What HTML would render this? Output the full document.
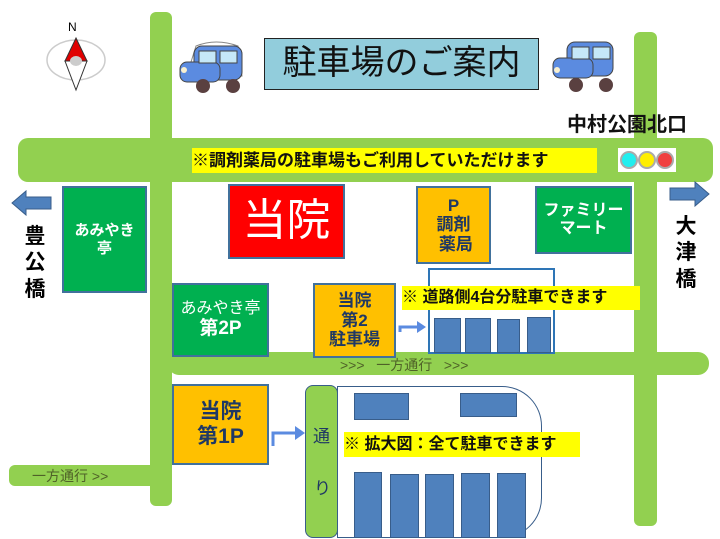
<!DOCTYPE html>
<html><head><meta charset="utf-8"><style>
body{margin:0;width:720px;height:539px;position:relative;background:#fff;overflow:hidden;font-family:"Liberation Sans","Noto Sans CJK JP",sans-serif}
div{position:absolute;box-sizing:border-box}
.c{display:flex;align-items:center;justify-content:center;text-align:center;line-height:1.15}
.c>p{margin:0}
.rd{background:#92D050;border-radius:6px}
.sl{background:#4F81BD;border:1px solid #385D8A}
.y{background:#FFFF00;font-weight:bold;color:#111;white-space:nowrap}
.or{background:#FFC000;border:2px solid #41719C;color:#1F3864;font-weight:bold}
.gr{background:#00B050;border:2px solid #41719C;color:#fff;font-weight:bold}
.ow{color:#4F6228;font-size:14px;white-space:nowrap}
.v{font-weight:bold;font-size:21px;width:26px;line-height:1.25;text-align:center}
</style></head><body>
<div class="rd" style="left:150px;top:12px;width:22px;height:494px"></div>
<div class="rd" style="left:634px;top:32px;width:23px;height:494px"></div>
<div class="rd" style="left:18px;top:138px;width:695px;height:44px;border-radius:10px"></div>
<div class="rd" style="left:168px;top:352px;width:541px;height:23px;border-radius:11px"></div>
<div class="rd" style="left:9px;top:465px;width:150px;height:21px"></div>

<svg style="position:absolute;left:44px;top:18px" width="64" height="75"><text x="24" y="13" font-size="12" font-family="Liberation Sans">N</text><ellipse cx="32" cy="42" rx="29" ry="20" fill="none" stroke="#ccc" stroke-width="1.5"/><polygon points="32,20 43,43 21,43" fill="#E00000" stroke="#333"/><polygon points="21,43 43,43 32,72" fill="#fff" stroke="#333"/><ellipse cx="32" cy="43" rx="6" ry="5" fill="#ccc"/></svg>

<svg style="position:absolute;left:176px;top:38px" width="78" height="56"><path d="M20 8 Q40 0 62 8 L66 38 L10 40 Z" fill="none" stroke="#888"/><rect x="18" y="8" width="48" height="34" rx="8" fill="#5B8BE0" stroke="#444"/><rect x="4" y="24" width="40" height="20" rx="7" fill="#5B8BE0" stroke="#444"/><rect x="23" y="13" width="17" height="12" fill="#C5E8F8" stroke="#444"/><rect x="44" y="13" width="17" height="12" fill="#C5E8F8" stroke="#444"/><circle cx="8" cy="32" r="3" fill="#f8f0d0"/><circle cx="27" cy="48" r="7" fill="#5a4040"/><circle cx="57" cy="48" r="7" fill="#5a4040"/></svg>
<svg style="position:absolute;left:549px;top:38px" width="78" height="56"><rect x="18" y="4" width="46" height="34" rx="8" fill="#5B8BE0" stroke="#444"/><rect x="4" y="20" width="40" height="20" rx="7" fill="#5B8BE0" stroke="#444"/><rect x="23" y="9" width="17" height="12" fill="#C5E8F8" stroke="#444"/><rect x="44" y="9" width="17" height="12" fill="#C5E8F8" stroke="#444"/><circle cx="8" cy="32" r="3" fill="#f8f0d0"/><circle cx="27" cy="47" r="7" fill="#5a4040"/><circle cx="57" cy="47" r="7" fill="#5a4040"/></svg>

<div class="c" style="left:264px;top:38px;width:275px;height:52px;background:#92CDDC;border:1.5px solid #222;font-size:34px;color:#111">駐車場のご案内</div>
<div style="left:567px;top:108px;font-size:20px;font-weight:bold;white-space:nowrap;color:#111">中村公園北口</div>
<div class="y" style="left:192px;top:148px;width:405px;height:25px;font-size:17px;line-height:25px">※調剤薬局の駐車場もご利用していただけます</div>
<svg style="position:absolute;left:618px;top:148px" width="58" height="24"><rect width="58" height="24" fill="#fff"/><circle cx="11" cy="12" r="8" fill="#22EEEE" stroke="#aaa" stroke-width="2"/><circle cx="29" cy="12" r="8" fill="#FFEE00" stroke="#aaa" stroke-width="2"/><circle cx="47" cy="12" r="8" fill="#F04040" stroke="#aaa" stroke-width="2"/></svg>

<svg style="position:absolute;left:11px;top:190px" width="42" height="26"><polygon points="1,13 15,1 15,7 40,7 40,19 15,19 15,25" fill="#4F81BD" stroke="#385D8A"/></svg>
<svg style="position:absolute;left:669px;top:181px" width="42" height="26"><polygon points="40,13 26,1 26,7 1,7 1,19 26,19 26,25" fill="#4F81BD" stroke="#385D8A"/></svg>
<div class="v" style="left:22px;top:224px">豊<br>公<br>橋</div>
<div class="v" style="left:673px;top:214px">大<br>津<br>橋</div>

<div class="c gr" style="left:62px;top:186px;width:85px;height:107px;font-size:15px"><p>あみやき<br>亭</p></div>
<div class="c" style="left:228px;top:184px;width:117px;height:75px;background:#FF0000;border:2px solid #41719C;color:#fff;font-size:44px">当院</div>
<div class="c or" style="left:416px;top:186px;width:75px;height:78px;font-size:17px"><p>P<br>調剤<br>&nbsp;薬局</p></div>
<div class="c gr" style="left:535px;top:186px;width:97px;height:68px;font-size:16px"><p>ファミリー<br>マート</p></div>

<div style="left:428px;top:268px;width:127px;height:86px;border:2px solid #2E75B6"></div>
<div class="sl" style="left:434px;top:318px;width:27px;height:35px"></div>
<div class="sl" style="left:465px;top:318px;width:26px;height:35px"></div>
<div class="sl" style="left:497px;top:319px;width:23px;height:34px"></div>
<div class="sl" style="left:527px;top:317px;width:24px;height:36px"></div>
<div class="y" style="left:402px;top:286px;width:238px;height:24px;font-size:16px;line-height:24px">※ 道路側4台分駐車できます</div>
<div class="c gr" style="left:172px;top:283px;width:97px;height:74px;font-size:16px;font-weight:normal"><p>あみやき亭<br><span style="font-size:19px;font-weight:bold">第2P</span></p></div>
<div class="c or" style="left:313px;top:283px;width:83px;height:75px;font-size:17px"><p>当院<br>第2<br>駐車場</p></div>
<svg style="position:absolute;left:398px;top:318px" width="30" height="18"><path d="M2 14 L2 9 L20 9" fill="none" stroke="#5B8BE0" stroke-width="3"/><polygon points="19,3 28,9 19,15" fill="#5B8BE0"/></svg>
<div class="ow" style="left:340px;top:355px">&gt;&gt;&gt;&nbsp;&nbsp;&nbsp;一方通行&nbsp;&nbsp;&nbsp;&gt;&gt;&gt;</div>

<div class="c or" style="left:172px;top:384px;width:97px;height:81px;font-size:21px"><p>当院<br>第1P</p></div>
<svg style="position:absolute;left:270px;top:420px" width="38" height="30"><path d="M3 26 L3 13 L26 13" fill="none" stroke="#5B8BE0" stroke-width="3"/><polygon points="25,6 35,13 25,20" fill="#5B8BE0"/></svg>
<div style="left:337px;top:386px;width:205px;height:152px;border:1.5px solid #385D8A;border-radius:0 40px 40px 0"></div>
<div class="rd" style="left:305px;top:385px;width:33px;height:153px;border:1.5px solid #385D8A;border-radius:8px;font-size:17px;color:#1F3864;text-align:center"><div style="left:7px;top:36px">通</div><div style="left:8px;top:88px">り</div></div>
<div class="sl" style="left:354px;top:393px;width:55px;height:27px"></div>
<div class="sl" style="left:460px;top:393px;width:57px;height:24px"></div>
<div class="y" style="left:344px;top:432px;width:236px;height:25px;font-size:16px;line-height:25px">※ 拡大図：全て駐車できます</div>
<div class="sl" style="left:354px;top:472px;width:28px;height:66px"></div>
<div class="sl" style="left:390px;top:474px;width:29px;height:64px"></div>
<div class="sl" style="left:425px;top:474px;width:29px;height:64px"></div>
<div class="sl" style="left:461px;top:473px;width:29px;height:65px"></div>
<div class="sl" style="left:497px;top:473px;width:29px;height:65px"></div>
<div class="ow" style="left:32px;top:466px">一方通行 &gt;&gt;</div>
</body></html>
